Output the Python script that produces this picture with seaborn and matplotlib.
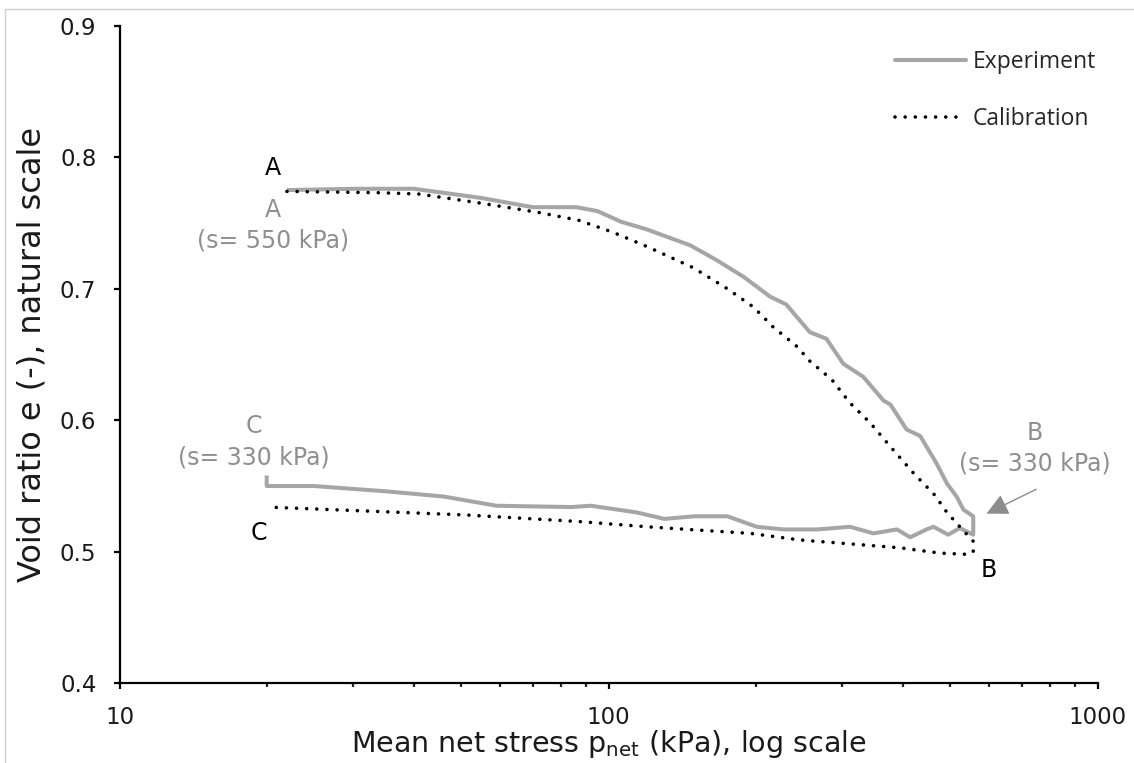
import numpy as np
import pandas as pd
import matplotlib
matplotlib.use("Agg")
import matplotlib.pyplot as plt
import seaborn as sns
from matplotlib.ticker import FixedLocator, NullFormatter, LogLocator
from matplotlib.lines import Line2D

# ---------------- data ----------------
# Experiment: loading A -> B, then unloading B -> C
exp_load_p = [22, 30, 40, 55, 70, 86, 95, 106, 120, 147, 166, 189, 214, 231, 258,
              279, 302, 332, 365, 377, 407, 434, 469, 492, 515, 532, 557]
exp_load_e = [0.775, 0.776, 0.776, 0.769, 0.762, 0.762, 0.759, 0.751, 0.745, 0.733,
              0.722, 0.709, 0.694, 0.688, 0.667, 0.662, 0.643, 0.633, 0.615, 0.612,
              0.593, 0.588, 0.567, 0.552, 0.542, 0.532, 0.527]
exp_unl_p = [557, 523, 495, 462, 447, 414, 389, 348, 312, 267, 228, 201, 175, 150,
             130, 114, 92, 84, 59, 46, 35, 25, 20, 20]
exp_unl_e = [0.513, 0.518, 0.513, 0.519, 0.517, 0.511, 0.517, 0.514, 0.519, 0.517,
             0.517, 0.519, 0.527, 0.527, 0.525, 0.530, 0.535, 0.534, 0.535, 0.542,
             0.546, 0.550, 0.550, 0.558]

# Calibration: loading A -> B, then unloading B -> C
cal_load_p = [22, 34, 41, 55, 72, 87, 102, 120, 149, 175, 198, 217, 243, 258, 286,
              312, 343, 377, 420, 465, 492, 523, 557, 557]
cal_load_e = [0.774, 0.773, 0.772, 0.765, 0.758, 0.752, 0.743, 0.732, 0.716, 0.700,
              0.686, 0.671, 0.656, 0.645, 0.631, 0.613, 0.598, 0.580, 0.560, 0.543,
              0.530, 0.519, 0.508, 0.500]
cal_unl_p = [545, 476, 395, 312, 246, 195, 160, 120, 87, 51, 20]
cal_unl_e = [0.498, 0.499, 0.503, 0.506, 0.509, 0.514, 0.516, 0.519, 0.523, 0.528, 0.534]

y_ticks = [0.4, 0.5, 0.6, 0.7, 0.8, 0.9]
y_tick_labels = ["0.4", "0.5", "0.6", "0.7", "0.8", "0.9"]
x_ticks = [10, 100, 1000]
x_tick_labels = ["10", "100", "1000"]

series_names = ["Experiment", "Calibration"]
x_label = "Mean net stress p$_{\\mathrm{net}}$ (kPa), log scale"
y_label = "Void ratio e (-), natural scale"

# ---------------- styling ----------------
sns.set_theme(style="ticks")
plt.rcParams["font.family"] = ["DejaVu Sans"]
plt.rcParams["mathtext.fontset"] = "dejavusans"

exp_color = "#A6A6A6"
lbl_gray = "#8F8F8F"
txt_color = "#1a1a1a"
dot_style = (0, (0.01, 2.8))

exp_df = pd.DataFrame({"p": exp_load_p + exp_unl_p, "e": exp_load_e + exp_unl_e})
cal_df = pd.DataFrame({"p": cal_load_p + cal_unl_p, "e": cal_load_e + cal_unl_e})

fig = plt.figure(figsize=(11.34, 7.63), dpi=100)
ax = fig.add_axes([119.5 / 1134, 1 - 683.3 / 763, 978 / 1134, 657.6 / 763])

sns.lineplot(data=exp_df, x="p", y="e", sort=False, estimator=None, ax=ax,
             color=exp_color, linewidth=2.9, label=series_names[0], legend=False)
sns.lineplot(data=cal_df, x="p", y="e", sort=False, estimator=None, ax=ax,
             color="black", linewidth=2.6, label=series_names[1], legend=False)
cal_line = ax.lines[-1]
cal_line.set_linestyle(dot_style)
cal_line.set_dash_capstyle("round")
ax.lines[0].set_solid_capstyle("butt")

ax.set_xscale("log")
ax.set_xlim(10, 1000)
ax.set_ylim(0.4, 0.9)
ax.xaxis.set_major_locator(FixedLocator(x_ticks))
ax.set_xticklabels(x_tick_labels)
ax.xaxis.set_minor_locator(LogLocator(base=10, subs=np.arange(2, 10)))
ax.xaxis.set_minor_formatter(NullFormatter())
ax.set_yticks(y_ticks)
ax.set_yticklabels(y_tick_labels)

for s in ["top", "right"]:
    ax.spines[s].set_visible(False)
for s in ["left", "bottom"]:
    ax.spines[s].set_linewidth(1.6)
    ax.spines[s].set_color("black")
ax.tick_params(axis="both", which="major", direction="out", length=4.6, width=1.6,
               labelsize=16.5, colors="black", pad=12)
ax.tick_params(axis="x", which="minor", direction="out", length=3, width=1.6)
ax.tick_params(axis="y", which="minor", left=False)
for t in ax.get_xticklabels() + ax.get_yticklabels():
    t.set_color(txt_color)

ax.set_xlabel(x_label, fontsize=20.5, color=txt_color)
ax.set_ylabel(y_label, fontsize=23, color=txt_color)
ax.xaxis.set_label_coords(0.5, -0.068)
ax.yaxis.set_label_coords(-0.074, 0.5)
ax.xaxis.label.set_va("top")
ax.yaxis.label.set_va("bottom")

# ---------------- point labels ----------------
fs = 17
ax.text(20.6, 0.792, "A", fontsize=fs, color="black", ha="center", va="center")
ax.text(20.6, 0.760, "A", fontsize=fs, color=lbl_gray, ha="center", va="center")
ax.text(20.6, 0.737, "(s= 550 kPa)", fontsize=fs, color=lbl_gray, ha="center", va="center")
ax.text(18.8, 0.596, "C", fontsize=fs, color=lbl_gray, ha="center", va="center")
ax.text(18.8, 0.572, "(s= 330 kPa)", fontsize=fs, color=lbl_gray, ha="center", va="center")
ax.text(19.3, 0.514, "C", fontsize=fs, color="black", ha="center", va="center")
ax.text(745, 0.590, "B", fontsize=fs, color=lbl_gray, ha="center", va="center")
ax.text(745, 0.567, "(s= 330 kPa)", fontsize=fs, color=lbl_gray, ha="center", va="center")
ax.text(598, 0.486, "B", fontsize=fs, color="black", ha="center", va="center")
ax.annotate("", xy=(593, 0.529), xytext=(749, 0.5475),
            arrowprops=dict(arrowstyle="-|>,head_length=0.6,head_width=0.3",
                            color="#8C8C8C", lw=1.0, mutation_scale=22,
                            shrinkA=0, shrinkB=0))

# ---------------- legend ----------------
handles = [Line2D([], [], color=exp_color, lw=2.9, solid_capstyle="round"),
           Line2D([], [], color="black", lw=2.6, linestyle=dot_style,
                  dash_capstyle="round")]
leg = ax.legend(handles, series_names, loc="upper left",
                bbox_to_anchor=(895 / 1134, 1 - 50 / 763),
                bbox_transform=fig.transFigure, frameon=False,
                prop={"family": ["Open Sans", "DejaVu Sans"], "size": 16.5},
                handlelength=3.1, handletextpad=0.28, labelspacing=1.45,
                borderpad=0, borderaxespad=0)
for t in leg.get_texts():
    t.set_color("#262626")

# faint figure border (left/top)
fig.add_artist(Line2D([5 / 1134, 5 / 1134], [0, 1 - 9 / 763], transform=fig.transFigure,
                      color="#D0D0D0", lw=1))
fig.add_artist(Line2D([5 / 1134, 1], [1 - 9 / 763, 1 - 9 / 763], transform=fig.transFigure,
                      color="#D0D0D0", lw=1))

fig.savefig("out.png", dpi=100, facecolor="white")
